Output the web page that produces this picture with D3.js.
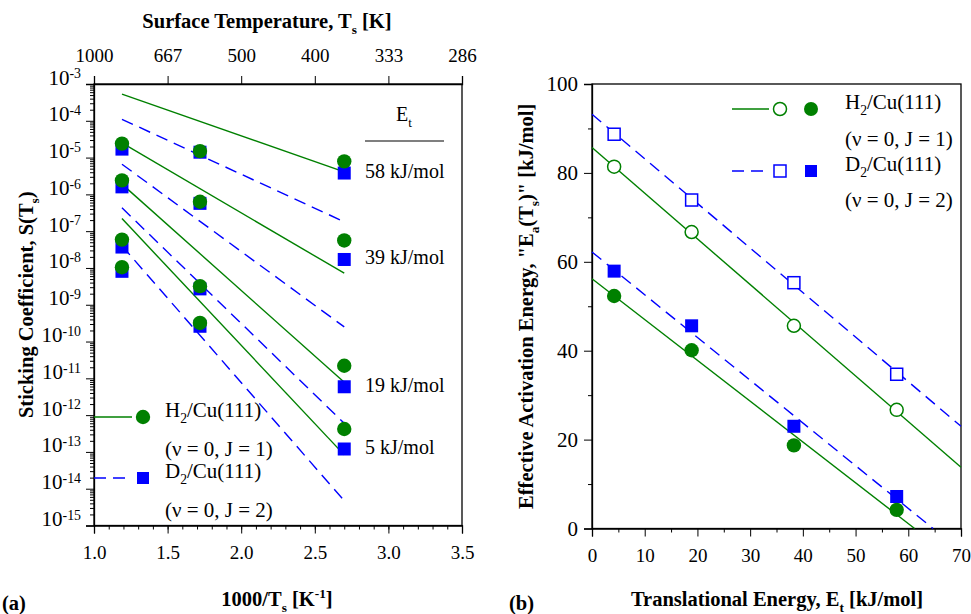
<!DOCTYPE html>
<html><head><meta charset="utf-8">
<script src="https://cdn.jsdelivr.net/npm/d3@7"></script>
<style>
body{margin:0;background:#fff}
text{font-family:"Liberation Serif","Times New Roman",Times,serif;fill:#000}
</style>
</head><body>
<svg id="c" width="971" height="614"></svg>
<script>
// ---------- Panel (a) data ----------
const invT = [1.19, 1.72, 2.70];
const energyLabels = ["58 kJ/mol", "39 kJ/mol", "19 kJ/mol", "5 kJ/mol"];
const h2Stick = [[2.4e-5, 1.5e-5, 7.9e-6], [2.4e-6, 6.3e-7, 5.6e-8], [5.9e-8, 3.2e-9, 2.2e-11], [1.05e-8, 3.2e-10, 4.2e-13]];
const d2Stick = [[1.7e-5, 1.4e-5, 3.8e-6], [1.6e-6, 5.7e-7, 1.7e-8], [3.7e-8, 2.7e-9, 5.9e-12], [8.1e-9, 2.6e-10, 1.2e-13]];
const fitRange = [1.19, 2.70];
const h2Fit = [[5.3e-4, 4.1e-6], [2.5e-5, 7.2e-9], [1.9e-6, 7.8e-12], [2.2e-7, 8.3e-14]];
const d2Fit = [[1.1e-4, 1.8e-7], [6.6e-6, 2.5e-10], [4.3e-7, 6e-13], [4e-8, 4.7e-15]];
const invTTicks = [1.0, 1.5, 2.0, 2.5, 3.0, 3.5];
const tempLabels = ["1000", "667", "500", "400", "333", "286"];
const logExps = [-3, -4, -5, -6, -7, -8, -9, -10, -11, -12, -13, -14, -15];

// ---------- Panel (b) data ----------
const transE = [4.2, 18.9, 38.3, 57.8];
const h2EaOpen = [81.4, 66.7, 45.6, 26.7];
const d2EaOpen = [88.7, 73.9, 55.3, 34.7];
const h2EaFilled = [52.3, 40.1, 18.7, 4.2];
const d2EaFilled = [57.9, 45.6, 23.0, 7.2];
const h2OpenFit = [[0, 85.7], [70, 13.8]];
const d2OpenFit = [[0, 93.2], [70, 23.0]];
const h2FilledFit = [[0, 56.2], [61.2, 0]];
const d2FilledFit = [[0, 62.2], [64.7, 0]];
const eTicks = [0, 10, 20, 30, 40, 50, 60, 70];
const eaTicks = [0, 20, 40, 60, 80, 100];

const GREEN = "#008000", BLUE = "#0000ff";
const svg = d3.select("#c");
const FS = 19, FL = 21, FT = 20.5;

function rich(sel, parts, size, subScale, supRise) {
  let off = 0;
  parts.forEach(p => {
    const [t, k] = Array.isArray(p) ? p : [p, "n"];
    const target = k === "sub" ? size * 0.3 : (k === "sup" ? -size * (supRise || 0.4) : 0);
    const ts = sel.append("tspan").text(t).attr("dy", target - off);
    if (k !== "n") ts.attr("font-size", size * (subScale || 0.65));
    off = target;
  });
  return sel;
}

// ================= Panel (a) =================
const ax = {l: 94, r: 462, t: 84, b: 525.5};
const xA = d3.scaleLinear().domain([1.0, 3.5]).range([ax.l, ax.r]);
const yA = d3.scaleLog().domain([1e-15, 1e-3]).range([ax.b, ax.t]);
const gA = svg.append("g");

gA.append("rect").attr("x", ax.l).attr("y", ax.t).attr("width", ax.r - ax.l).attr("height", ax.b - ax.t)
  .attr("fill", "none").attr("stroke", "#000").attr("stroke-width", 1.3);

// bottom axis
const minorA = d3.range(1.0, 3.501, 0.1);
gA.append("g").attr("transform", `translate(0,${ax.b})`)
  .call(d3.axisBottom(xA).tickValues(minorA).tickSize(4).tickFormat(""))
  .call(g => g.select(".domain").remove());
gA.append("g").attr("transform", `translate(0,${ax.b})`)
  .call(d3.axisBottom(xA).tickValues(invTTicks).tickSize(8).tickFormat(d3.format(".1f")).tickPadding(12))
  .call(g => g.select(".domain").attr("stroke-width", 1.3))
  .call(g => g.selectAll("text").attr("font-size", FS));

// top axis (temperature)
gA.append("g").attr("transform", `translate(0,${ax.t})`)
  .call(d3.axisTop(xA).tickValues(invTTicks).tickSize(8).tickFormat((d, i) => tempLabels[i]).tickPadding(14))
  .call(g => g.select(".domain").attr("stroke-width", 1.3))
  .call(g => g.selectAll("text").attr("font-size", FS));

// left log axis
const minorLog = [];
logExps.slice(1).forEach(e => { for (let m = 2; m <= 9; m++) minorLog.push(m * Math.pow(10, e)); });
gA.append("g").attr("transform", `translate(${ax.l},0)`)
  .call(d3.axisLeft(yA).tickValues(minorLog).tickSize(4).tickFormat(""))
  .call(g => g.select(".domain").remove());
const majLog = logExps.map(e => Math.pow(10, e));
const la = gA.append("g").attr("transform", `translate(${ax.l},0)`)
  .call(d3.axisLeft(yA).tickValues(majLog).tickSize(8).tickFormat(""))
  .call(g => g.select(".domain").attr("stroke-width", 1.3));
la.selectAll(".tick").each(function (d, i) {
  const t = d3.select(this).append("text").attr("x", -13).attr("y", 0).attr("dy", "0.42em")
    .attr("text-anchor", "end").attr("font-size", FL);
  rich(t, ["10", [String(logExps[i]), "sup"]], FL, 0.66, 0.3);
});

// fit lines
h2Fit.forEach(f => {
  gA.append("line").attr("x1", xA(fitRange[0])).attr("y1", yA(f[0]))
    .attr("x2", xA(fitRange[1])).attr("y2", yA(f[1]))
    .attr("stroke", GREEN).attr("stroke-width", 1.4);
});
d2Fit.forEach(f => {
  gA.append("line").attr("x1", xA(fitRange[0])).attr("y1", yA(f[0]))
    .attr("x2", xA(fitRange[1])).attr("y2", yA(f[1]))
    .attr("stroke", BLUE).attr("stroke-width", 1.4).attr("stroke-dasharray", "12,7");
});
// markers
d2Stick.forEach(row => row.forEach((v, i) => {
  gA.append("rect").attr("x", xA(invT[i]) - 6.5).attr("y", yA(v) - 6.5).attr("width", 13).attr("height", 13).attr("fill", BLUE);
}));
h2Stick.forEach(row => row.forEach((v, i) => {
  gA.append("circle").attr("cx", xA(invT[i])).attr("cy", yA(v)).attr("r", 7.2).attr("fill", GREEN);
}));
// energy labels
energyLabels.forEach((lab, i) => {
  gA.append("text").attr("x", 365).attr("y", yA(d2Stick[i][2]) - 2).attr("dy", "0.35em")
    .attr("font-size", 20).text(lab);
});
rich(gA.append("text").attr("x", 404).attr("y", 121).attr("dy", "0.35em").attr("text-anchor", "middle").attr("font-size", 20), ["E", ["t", "sub"]], 20);
gA.append("line").attr("x1", 365).attr("x2", 444).attr("y1", 141).attr("y2", 141).attr("stroke", "#000").attr("stroke-width", 1.2);

// legend (a)
gA.append("line").attr("x1", ax.l).attr("x2", 132).attr("y1", 417).attr("y2", 417).attr("stroke", GREEN).attr("stroke-width", 1.4);
gA.append("circle").attr("cx", 143).attr("cy", 417).attr("r", 7.2).attr("fill", GREEN);
rich(gA.append("text").attr("x", 165).attr("y", 417).attr("dy", "0.35em").attr("font-size", FL), ["H", ["2", "sub"], "/Cu(111)"], FL);
gA.append("text").attr("x", 165).attr("y", 449).attr("dy", "0.35em").attr("font-size", FL).text("(\u03bd = 0, J = 1)");
gA.append("line").attr("x1", ax.l).attr("x2", 132).attr("y1", 478).attr("y2", 478).attr("stroke", BLUE).attr("stroke-width", 1.4).attr("stroke-dasharray", "12,7");
gA.append("rect").attr("x", 137).attr("y", 472).attr("width", 12).attr("height", 12).attr("fill", BLUE);
rich(gA.append("text").attr("x", 165).attr("y", 478).attr("dy", "0.35em").attr("font-size", FL), ["D", ["2", "sub"], "/Cu(111)"], FL);
gA.append("text").attr("x", 165).attr("y", 510).attr("dy", "0.35em").attr("font-size", FL).text("(\u03bd = 0, J = 2)");

// titles (a)
rich(svg.append("text").attr("x", 267).attr("y", 28).attr("text-anchor", "middle").attr("font-size", FT).attr("font-weight", "bold"),
  ["Surface Temperature, T", ["s", "sub"], " [K]"], FT);
rich(svg.append("text").attr("x", 277).attr("y", 606).attr("text-anchor", "middle").attr("font-size", FT).attr("font-weight", "bold"),
  ["1000/T", ["s", "sub"], " [K", ["-1", "sup"], "]"], FT);
rich(svg.append("text").attr("transform", `translate(33,${(ax.t + ax.b) / 2}) rotate(-90)`).attr("text-anchor", "middle").attr("font-size", FT).attr("font-weight", "bold"),
  ["Sticking Coefficient, S(T", ["s", "sub"], ")"], FT);
svg.append("text").attr("x", 2).attr("y", 610).attr("font-size", FT).attr("font-weight", "bold").text("(a)");

// ================= Panel (b) =================
const bx = {l: 592, r: 961, t: 84, b: 528.5};
const xB = d3.scaleLinear().domain([0, 70]).range([bx.l, bx.r]);
const yB = d3.scaleLinear().domain([0, 100]).range([bx.b, bx.t]);
const gB = svg.append("g");
gB.append("rect").attr("x", bx.l).attr("y", bx.t).attr("width", bx.r - bx.l).attr("height", bx.b - bx.t)
  .attr("fill", "none").attr("stroke", "#000").attr("stroke-width", 1.3);
gB.append("g").attr("transform", `translate(0,${bx.b})`)
  .call(d3.axisBottom(xB).tickValues(d3.range(5, 70, 10)).tickSize(4).tickFormat(""))
  .call(g => g.select(".domain").remove());
gB.append("g").attr("transform", `translate(0,${bx.b})`)
  .call(d3.axisBottom(xB).tickValues(eTicks).tickSize(8).tickPadding(12))
  .call(g => g.select(".domain").attr("stroke-width", 1.3))
  .call(g => g.selectAll("text").attr("font-size", FS));
gB.append("g").attr("transform", `translate(${bx.l},0)`)
  .call(d3.axisLeft(yB).tickValues(d3.range(10, 100, 20)).tickSize(4).tickFormat(""))
  .call(g => g.select(".domain").remove());
gB.append("g").attr("transform", `translate(${bx.l},0)`)
  .call(d3.axisLeft(yB).tickValues(eaTicks).tickSize(8).tickPadding(6))
  .call(g => g.select(".domain").attr("stroke-width", 1.3))
  .call(g => g.selectAll("text").attr("font-size", FL));

const lineB = d3.line().x(d => xB(d[0])).y(d => yB(d[1]));
gB.append("path").attr("d", lineB(h2OpenFit)).attr("stroke", GREEN).attr("stroke-width", 1.4).attr("fill", "none");
gB.append("path").attr("d", lineB(h2FilledFit)).attr("stroke", GREEN).attr("stroke-width", 1.4).attr("fill", "none");
gB.append("path").attr("d", lineB(d2OpenFit)).attr("stroke", BLUE).attr("stroke-width", 1.4).attr("fill", "none").attr("stroke-dasharray", "12,7");
gB.append("path").attr("d", lineB(d2FilledFit)).attr("stroke", BLUE).attr("stroke-width", 1.4).attr("fill", "none").attr("stroke-dasharray", "12,7");

transE.forEach((e, i) => {
  gB.append("rect").attr("x", xB(e) - 6).attr("y", yB(d2EaOpen[i]) - 6).attr("width", 12).attr("height", 12)
    .attr("fill", "#fff").attr("stroke", BLUE).attr("stroke-width", 1.5);
  gB.append("rect").attr("x", xB(e) - 6.5).attr("y", yB(d2EaFilled[i]) - 6.5).attr("width", 13).attr("height", 13).attr("fill", BLUE);
  gB.append("circle").attr("cx", xB(e)).attr("cy", yB(h2EaOpen[i])).attr("r", 6.5)
    .attr("fill", "#fff").attr("stroke", GREEN).attr("stroke-width", 1.5);
  gB.append("circle").attr("cx", xB(e)).attr("cy", yB(h2EaFilled[i])).attr("r", 7.2).attr("fill", GREEN);
});

// legend (b)
gB.append("line").attr("x1", 732).attr("x2", 769).attr("y1", 109).attr("y2", 109).attr("stroke", GREEN).attr("stroke-width", 1.4);
gB.append("circle").attr("cx", 780).attr("cy", 109).attr("r", 6.5).attr("fill", "#fff").attr("stroke", GREEN).attr("stroke-width", 1.5);
gB.append("circle").attr("cx", 811).attr("cy", 109).attr("r", 7).attr("fill", GREEN);
rich(gB.append("text").attr("x", 845).attr("y", 109).attr("dy", "0.35em").attr("font-size", FL), ["H", ["2", "sub"], "/Cu(111)"], FL);
gB.append("text").attr("x", 845).attr("y", 139).attr("dy", "0.35em").attr("font-size", FL).text("(\u03bd = 0, J = 1)");
gB.append("line").attr("x1", 732).attr("x2", 769).attr("y1", 171).attr("y2", 171).attr("stroke", BLUE).attr("stroke-width", 1.4).attr("stroke-dasharray", "12,7");
gB.append("rect").attr("x", 774).attr("y", 165).attr("width", 12).attr("height", 12).attr("fill", "#fff").attr("stroke", BLUE).attr("stroke-width", 1.5);
gB.append("rect").attr("x", 805).attr("y", 165).attr("width", 12).attr("height", 12).attr("fill", BLUE);
rich(gB.append("text").attr("x", 845).attr("y", 171).attr("dy", "0.35em").attr("font-size", FL), ["D", ["2", "sub"], "/Cu(111)"], FL);
gB.append("text").attr("x", 845).attr("y", 200).attr("dy", "0.35em").attr("font-size", FL).text("(\u03bd = 0, J = 2)");

// titles (b)
rich(svg.append("text").attr("x", 777).attr("y", 606).attr("text-anchor", "middle").attr("font-size", FT).attr("font-weight", "bold"),
  ["Translational Energy, E", ["t", "sub"], " [kJ/mol]"], FT);
rich(svg.append("text").attr("transform", `translate(533,${(bx.t + bx.b) / 2}) rotate(-90)`).attr("text-anchor", "middle").attr("font-size", FT).attr("font-weight", "bold"),
  ["Effective Activation Energy, \"E", ["a", "sub"], "(T", ["s", "sub"], ")\" [kJ/mol]"], FT);
svg.append("text").attr("x", 509).attr("y", 610).attr("font-size", FT).attr("font-weight", "bold").text("(b)");
</script>
</body></html>
